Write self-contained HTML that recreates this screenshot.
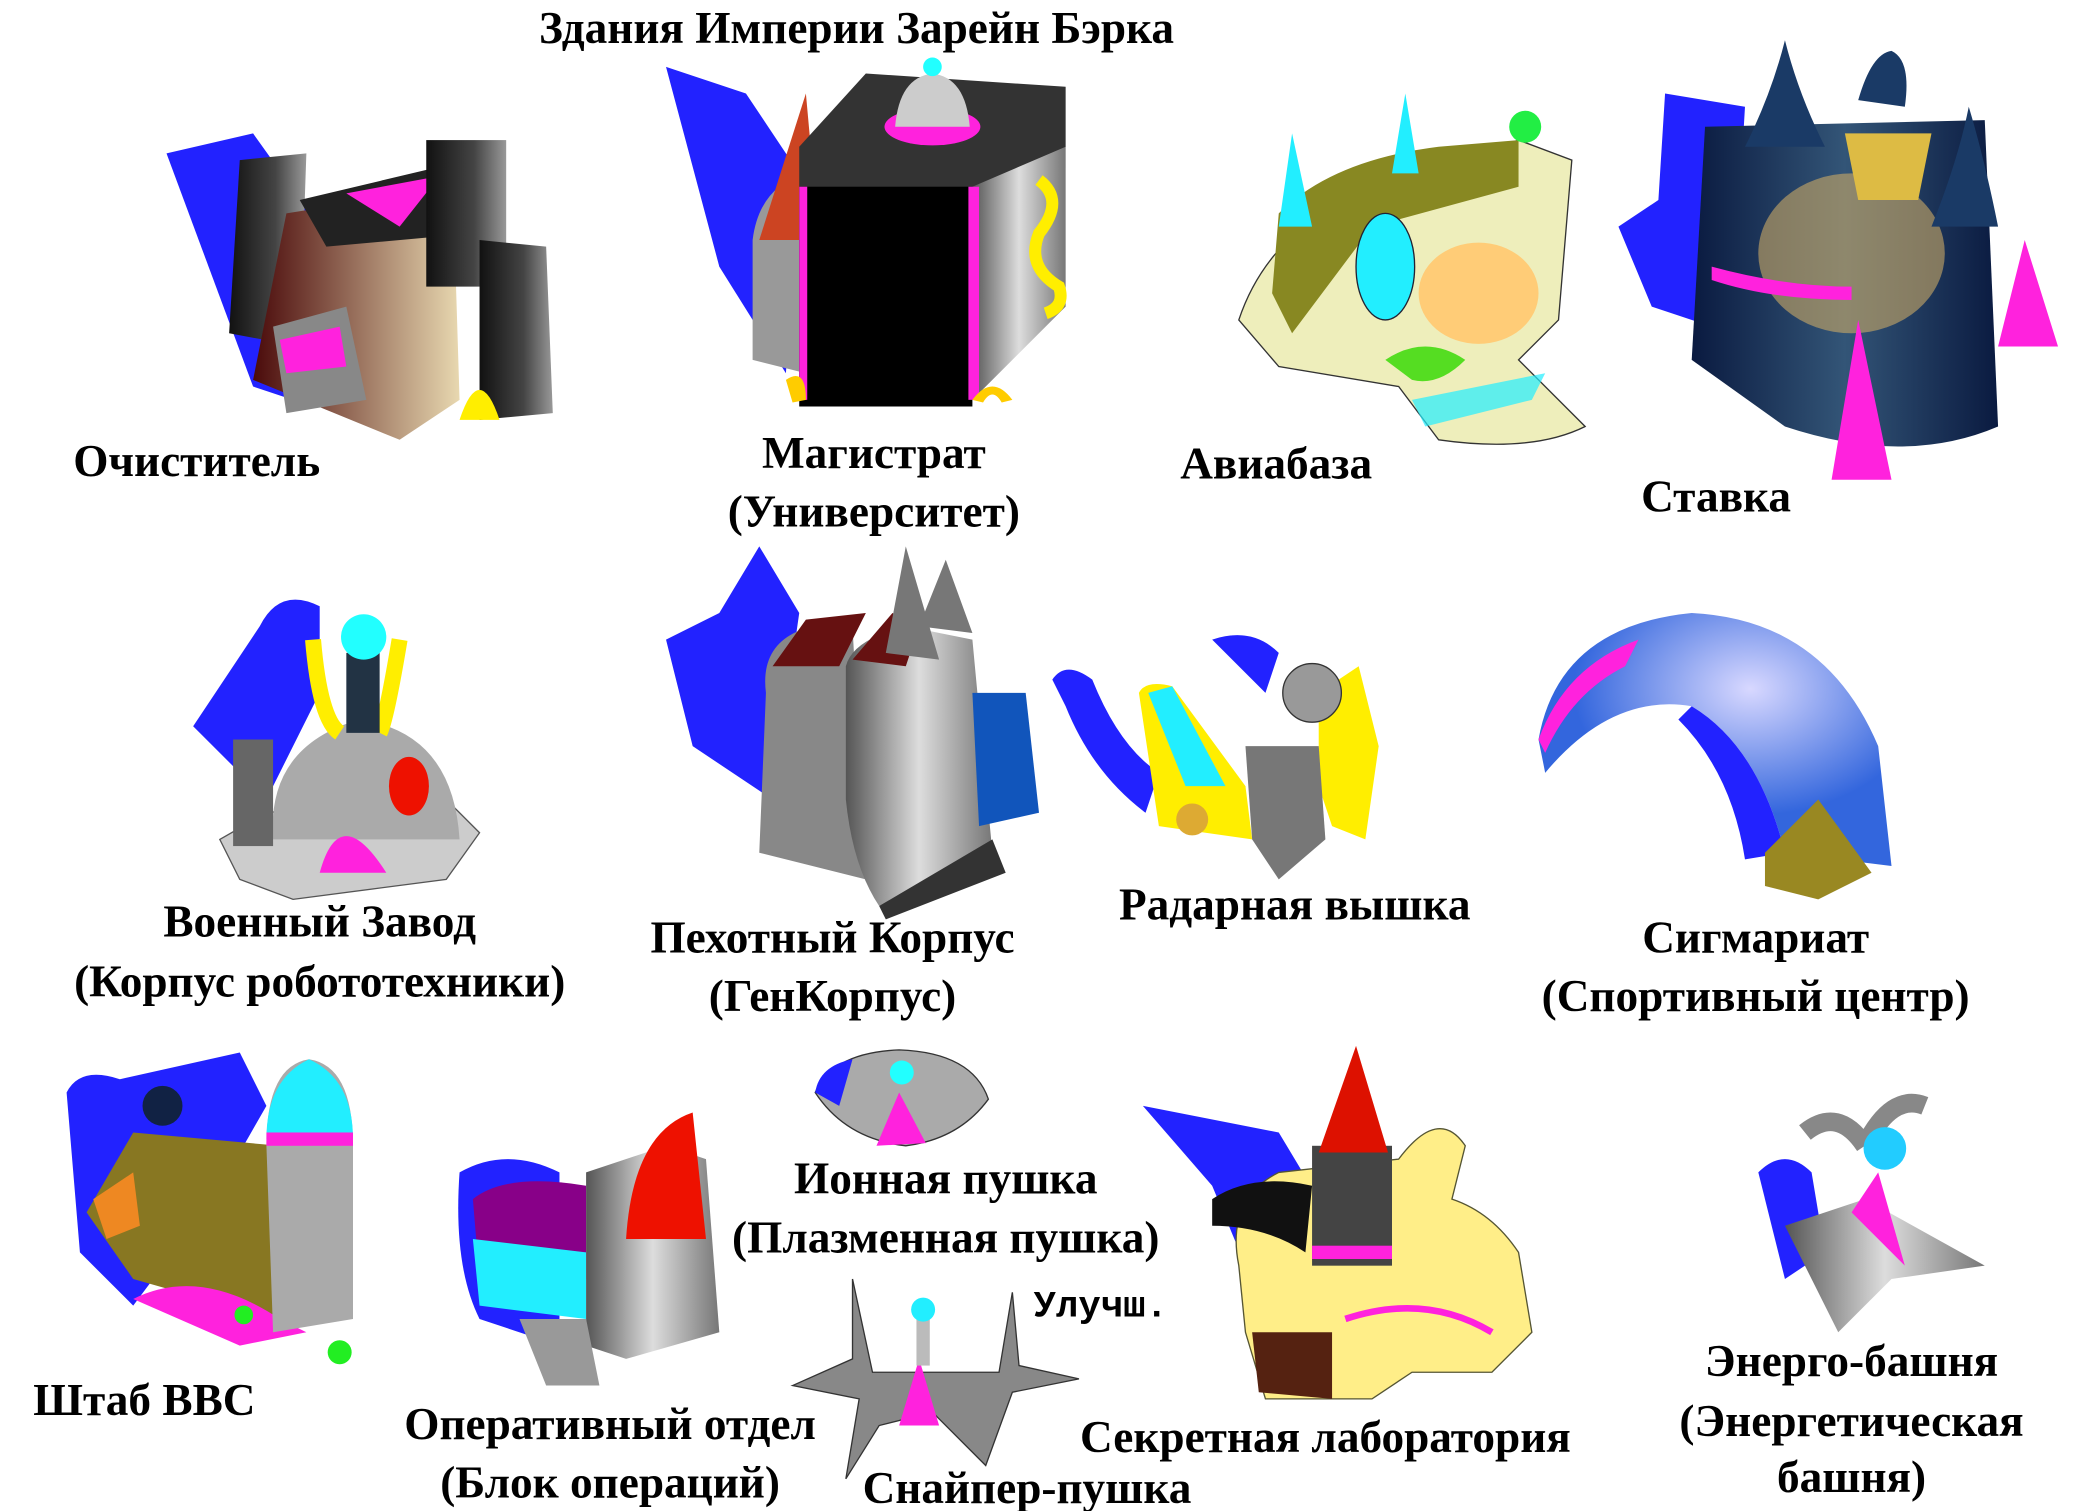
<!DOCTYPE html>
<html><head><meta charset="utf-8"><style>
html,body{margin:0;padding:0;background:#fff;width:2078px;height:1511px;overflow:hidden}
svg{display:block}
text{font-family:"Liberation Serif",serif;font-weight:bold;font-size:34px;fill:#000}
.m{text-anchor:middle}
</style></head><body>
<svg width="2078" height="1511" viewBox="0 0 1560 1134" xmlns="http://www.w3.org/2000/svg">
<defs>
<linearGradient id="dk" x1="0" x2="1"><stop offset="0" stop-color="#111"/><stop offset=".6" stop-color="#444"/><stop offset="1" stop-color="#999"/></linearGradient>
<linearGradient id="br" x1="0" x2="1"><stop offset="0" stop-color="#4a0a0a"/><stop offset="1" stop-color="#e8d8b0"/></linearGradient>
<linearGradient id="gr" x1="0" x2="1"><stop offset="0" stop-color="#555"/><stop offset=".5" stop-color="#ddd"/><stop offset="1" stop-color="#777"/></linearGradient>
<linearGradient id="nv" x1="0" x2="1"><stop offset="0" stop-color="#0a1a40"/><stop offset=".5" stop-color="#335577"/><stop offset="1" stop-color="#0a1a40"/></linearGradient>
<radialGradient id="bl" cx=".6" cy=".3"><stop offset="0" stop-color="#d8d8ff"/><stop offset="1" stop-color="#3366dd"/></radialGradient>
</defs>
<!-- Очиститель -->
<path d="M125 115 L190 100 L240 170 L220 300 L190 290 Z" fill="#2222ff"/>
<path d="M180 120 L230 115 L225 260 L172 250 Z" fill="url(#dk)"/>
<path d="M215 160 L340 140 L345 300 L300 330 L190 285 Z" fill="url(#br)"/>
<path d="M225 150 L330 125 L355 175 L245 185 Z" fill="#222"/>
<path d="M260 145 L330 132 L300 170 Z" fill="#ff22dd"/>
<rect x="320" y="105" width="60" height="110" fill="url(#dk)"/>
<path d="M360 180 L410 185 L415 310 L360 315 Z" fill="url(#dk)"/>
<path d="M345 315 Q360 270 375 315 Z" fill="#ffee00"/>
<path d="M205 245 L260 230 L275 300 L215 310 Z" fill="#888"/>
<path d="M210 255 L255 245 L260 275 L215 280 Z" fill="#ff22dd"/>
<text x="55" y="357">Очиститель</text>
<!-- Магистрат -->
<path d="M500 50 L560 70 L600 130 L590 280 L540 200 Z" fill="#2222ff"/>
<path d="M565 180 Q570 140 605 130 L605 280 L565 270 Z" fill="#999"/>
<path d="M570 180 L605 70 L615 180 Z" fill="#cc4422"/>
<path d="M600 110 L650 55 L800 65 L800 110 L730 300 L600 300 Z" fill="#333"/>
<rect x="600" y="140" width="130" height="165" fill="#000"/>
<path d="M730 140 L800 110 L800 230 L730 300 Z" fill="url(#gr)"/>
<rect x="727" y="140" width="8" height="160" fill="#ff22dd"/>
<rect x="600" y="140" width="6" height="160" fill="#ff22dd"/>
<ellipse cx="700" cy="95" rx="36" ry="14" fill="#ff22dd"/>
<path d="M672 95 Q675 58 700 55 Q725 58 728 95 Z" fill="#ccc"/>
<circle cx="700" cy="50" r="7" fill="#22ffff"/>
<path d="M780 135 Q800 150 780 175 Q770 200 795 215 Q800 230 785 235" stroke="#ffee00" stroke-width="9" fill="none"/>
<path d="M590 285 Q605 275 605 300 L595 302 Z M730 300 Q745 280 760 300 L752 302 Q745 290 738 302 Z" fill="#ffcc00"/>
<text class="m" x="656" y="351">Магистрат</text>
<text class="m" x="656" y="395">(Университет)</text>
<text class="m" x="643" y="32">Здания Империи Зарейн Бэрка</text>
<!-- Авиабаза -->
<path d="M930 240 Q950 180 1010 150 L1140 105 L1180 120 L1170 240 L1140 270 L1190 320 Q1150 340 1080 330 L1050 290 L960 275 Z" fill="#eeeebb" stroke="#333"/>
<path d="M960 160 Q1000 120 1080 110 L1140 105 L1140 140 L1030 170 L970 250 L955 220 Z" fill="#888822"/>
<ellipse cx="1040" cy="200" rx="22" ry="40" fill="#22eeff" stroke="#223"/>
<ellipse cx="1110" cy="220" rx="45" ry="38" fill="#ffcc77"/>
<path d="M1040 270 Q1070 250 1100 270 Q1080 290 1060 285 Z" fill="#55dd22"/>
<path d="M1060 300 L1160 280 L1150 300 L1070 320 Z" fill="#22eeff" opacity=".7"/>
<circle cx="1145" cy="95" r="12" fill="#22ee44"/>
<path d="M970 100 L985 170 L960 170 Z M1055 70 L1065 130 L1045 130 Z" fill="#22eeff"/>
<text x="886" y="359">Авиабаза</text>
<!-- Ставка -->
<path d="M1250 70 L1310 80 L1300 250 L1240 230 L1215 170 L1245 150 Z" fill="#2222ff"/>
<path d="M1280 95 L1490 90 L1500 320 Q1430 350 1340 320 L1270 270 Z" fill="url(#nv)"/>
<ellipse cx="1390" cy="190" rx="70" ry="60" fill="#ccaa66" opacity=".6"/>
<path d="M1310 110 Q1330 70 1340 30 Q1350 70 1370 110 Z M1395 75 Q1405 40 1420 38 Q1435 45 1430 80 Z M1450 170 Q1470 120 1478 80 Q1490 120 1500 170 Z" fill="#1a3a66"/>
<path d="M1385 100 L1450 100 L1440 150 L1395 150 Z" fill="#ddbb44"/>
<path d="M1285 200 Q1340 215 1390 215 L1390 225 Q1330 225 1285 210 Z" fill="#ff22dd"/>
<path d="M1375 360 L1395 240 L1420 360 Z M1500 260 L1520 180 L1545 260 Z" fill="#ff22dd"/>
<text x="1232" y="384">Ставка</text>
<!-- Военный Завод -->
<path d="M195 470 Q210 440 240 455 L240 520 L200 600 L145 545 Z" fill="#2222ff"/>
<path d="M165 630 L200 610 L330 595 L360 625 L335 660 L220 675 L180 660 Z" fill="#ccc" stroke="#555"/>
<path d="M205 630 Q200 560 270 540 Q340 550 345 630 Z" fill="#aaa"/>
<ellipse cx="307" cy="590" rx="15" ry="22" fill="#ee1100"/>
<path d="M240 655 Q255 600 290 655 Z" fill="#ff22dd"/>
<rect x="175" y="555" width="30" height="80" fill="#666"/>
<path d="M235 480 Q240 540 255 550 M300 480 Q290 540 285 550" stroke="#ffee00" stroke-width="12" fill="none"/>
<path d="M260 490 L285 490 L285 550 L260 550 Z" fill="#234"/>
<circle cx="273" cy="478" r="17" fill="#22ffff"/>
<text class="m" x="240" y="703">Военный Завод</text>
<text class="m" x="240" y="748">(Корпус робототехники)</text>
<!-- Пехотный Корпус -->
<path d="M570 410 L600 460 L580 600 L520 560 L500 480 L540 460 Z" fill="#2222ff"/>
<path d="M575 520 Q570 480 610 470 L640 470 L650 660 L570 640 Z" fill="#888"/>
<path d="M580 500 L605 465 L650 460 L630 500 Z" fill="#661111"/>
<path d="M635 500 Q640 480 680 470 L730 480 L745 640 L660 680 Q640 650 635 600 Z" fill="url(#gr)"/>
<path d="M640 495 L670 460 L690 470 L680 500 Z" fill="#661111"/>
<path d="M665 490 L680 410 L705 495 Z M690 470 L710 420 L730 475 Z" fill="#777"/>
<path d="M730 520 L770 520 L780 610 L735 620 Z" fill="#1155bb"/>
<path d="M660 680 L745 630 L755 655 L665 690 Z" fill="#333"/>
<text class="m" x="625" y="715">Пехотный Корпус</text>
<text class="m" x="625" y="759">(ГенКорпус)</text>
<!-- Радарная вышка -->
<path d="M790 510 Q800 495 820 510 Q840 560 870 580 L860 610 Q820 580 800 530 Z M910 480 Q940 470 960 490 L950 520 Z" fill="#2222ff"/>
<path d="M855 520 Q860 510 880 515 L935 590 L940 630 L870 620 Z" fill="#ffee00"/>
<path d="M862 520 L880 515 L920 590 L890 590 Z" fill="#22eeff"/>
<path d="M990 520 L1020 500 L1035 560 L1025 630 L1000 620 L990 590 Z" fill="#ffee00"/>
<circle cx="985" cy="520" r="22" fill="#999" stroke="#333"/>
<path d="M935 560 L990 560 L995 630 L960 660 L940 630 Z" fill="#777"/>
<circle cx="895" cy="615" r="12" fill="#ddaa33"/>
<text class="m" x="972" y="690">Радарная вышка</text>
<!-- Сигмариат -->
<path d="M1155 555 Q1170 470 1270 460 Q1370 465 1410 560 L1420 650 L1340 640 Q1320 560 1270 530 Q1210 520 1160 580 Z" fill="url(#bl)"/>
<path d="M1155 555 Q1175 500 1230 480 L1220 500 Q1180 520 1160 565 Z" fill="#ff22dd"/>
<path d="M1270 530 Q1320 560 1340 640 L1310 645 Q1300 580 1260 540 Z" fill="#2222ff"/>
<path d="M1325 640 L1365 600 L1405 655 L1365 675 L1325 665 Z" fill="#998822"/>
<text class="m" x="1318" y="715">Сигмариат</text>
<text class="m" x="1318" y="759">(Спортивный центр)</text>
<!-- Ионная пушка -->
<path d="M612 820 Q625 790 675 788 Q730 790 742 825 Q720 855 680 860 Q635 855 612 820 Z" fill="#aaa" stroke="#333"/>
<path d="M612 820 Q615 800 640 795 L630 830 Z" fill="#2222ff"/>
<path d="M658 860 L675 820 L695 858 Z" fill="#ff22dd"/>
<circle cx="677" cy="805" r="9" fill="#22ffff"/>
<text class="m" x="710" y="896">Ионная пушка</text>
<text class="m" x="710" y="940">(Плазменная пушка)</text>
<text x="776" y="988" style="font-family:'Liberation Mono',monospace;font-size:28px">Улучш.</text>
<!-- Снайпер-пушка -->
<path d="M595 1040 L640 1020 L640 960 L655 1030 L750 1030 L760 970 L765 1025 L810 1035 L760 1045 L740 1100 L700 1060 L660 1070 L635 1110 L645 1050 Z" fill="#888" stroke="#333"/>
<path d="M675 1070 L690 1020 L705 1070 Z" fill="#ff22dd"/>
<rect x="688" y="985" width="10" height="40" fill="#bbb"/>
<circle cx="693" cy="983" r="9" fill="#22eeff"/>
<text class="m" x="771" y="1128">Снайпер-пушка</text>
<!-- Штаб ВВС -->
<path d="M50 820 Q60 800 90 810 L180 790 L200 830 L160 900 L100 980 L60 940 Z" fill="#2222ff"/>
<path d="M65 910 L100 850 L210 860 L205 990 L100 960 Z" fill="#887722"/>
<path d="M70 900 L100 880 L105 920 L80 930 Z" fill="#ee8822"/>
<path d="M100 975 Q150 950 210 990 L230 1000 L180 1010 Z" fill="#ff22dd"/>
<path d="M200 860 Q200 800 232 795 Q265 800 265 860 L265 990 L205 1000 Z" fill="#aaa"/>
<path d="M200 855 Q200 810 232 795 Q265 810 265 855 Z" fill="#22eeff"/>
<rect x="200" y="850" width="65" height="10" fill="#ff22dd"/>
<circle cx="122" cy="830" r="15" fill="#112244"/>
<circle cx="183" cy="987" r="7" fill="#22ee22"/><circle cx="255" cy="1015" r="9" fill="#22ee22"/>
<text x="25" y="1062">Штаб ВВС</text>
<!-- Оперативный отдел -->
<path d="M345 880 Q380 860 420 880 L420 1010 L360 990 Q340 950 345 880 Z" fill="#2222ff"/>
<path d="M355 900 Q380 880 440 890 L440 960 L360 960 Z" fill="#880088"/>
<path d="M355 930 L440 940 L440 990 L360 980 Z" fill="#22eeff"/>
<path d="M440 880 L500 860 L530 870 L540 1000 L470 1020 L440 1010 Z" fill="url(#gr)"/>
<path d="M470 930 Q475 850 520 835 L530 930 Z" fill="#ee1100"/>
<path d="M390 990 L440 990 L450 1040 L410 1040 Z" fill="#999"/>
<text class="m" x="458" y="1080">Оперативный отдел</text>
<text class="m" x="458" y="1124">(Блок операций)</text>
<!-- Секретная лаборатория -->
<path d="M858 830 L960 850 L990 900 L935 950 L910 890 Z" fill="#2222ff"/>
<path d="M930 950 Q920 900 960 880 L1050 870 Q1080 830 1100 860 L1090 900 Q1120 910 1140 940 L1150 1000 L1120 1030 L1060 1030 L1030 1050 L950 1050 L935 1000 Z" fill="#ffee88" stroke="#553"/>
<path d="M910 900 Q940 880 985 890 L980 940 Q950 920 910 920 Z" fill="#111"/>
<rect x="985" y="860" width="60" height="90" fill="#444"/>
<path d="M990 865 L1018 785 L1042 865 Z" fill="#dd1100"/>
<rect x="985" y="935" width="60" height="10" fill="#ff22dd"/>
<path d="M940 1000 L1000 1000 L1000 1050 L945 1045 Z" fill="#552211"/>
<path d="M1010 990 Q1070 970 1120 1000" stroke="#ff22dd" stroke-width="5" fill="none"/>
<text class="m" x="995" y="1090">Секретная лаборатория</text>
<!-- Энерго-башня -->
<path d="M1320 880 Q1340 860 1360 880 L1370 940 L1340 960 Z" fill="#2222ff"/>
<path d="M1340 920 L1400 900 L1490 950 L1420 960 L1380 1000 Z" fill="url(#gr)"/>
<path d="M1355 850 Q1380 830 1400 860 M1400 860 Q1420 820 1445 830" stroke="#888" stroke-width="14" fill="none"/>
<path d="M1390 910 L1410 880 L1430 950 Z" fill="#ff22dd"/>
<circle cx="1415" cy="862" r="16" fill="#22ccff"/>
<text class="m" x="1390" y="1033">Энерго-башня</text>
<text class="m" x="1390" y="1078">(Энергетическая</text>
<text class="m" x="1390" y="1120">башня)</text>
</svg>
</body></html>
